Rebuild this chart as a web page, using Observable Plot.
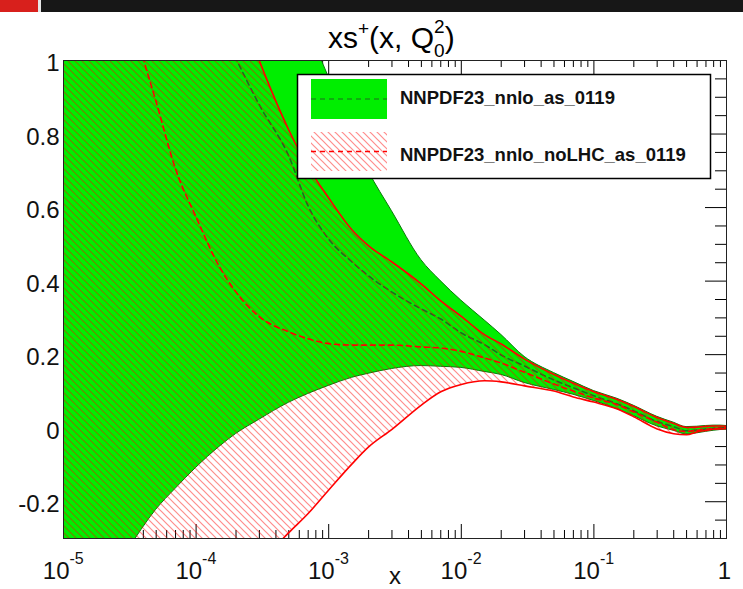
<!DOCTYPE html>
<html><head><meta charset="utf-8">
<script src="https://cdn.jsdelivr.net/npm/d3@7"></script>
<script src="https://cdn.jsdelivr.net/npm/@observablehq/plot@0.6"></script>
<style>
html,body{margin:0;padding:0;background:#fff;}
#wrap{position:relative;width:743px;height:589px;overflow:hidden;font-family:'Liberation Sans',Arial,Helvetica,sans-serif;}
#chart{position:absolute;left:0;top:0;}
#strip{position:absolute;left:0;top:0;width:743px;height:12px;background:#171717;}
#strip .red{position:absolute;left:0;top:0;width:38px;height:12px;background:#d8201c;}
#strip .gap{position:absolute;left:38px;top:0;width:3px;height:12px;background:#e6e6e6;}
#overlay{position:absolute;left:0;top:0;}
</style></head><body>
<div id="wrap">
<div id="chart"></div>
<div id="strip"><div class="red"></div><div class="gap"></div></div>
<svg id="overlay" width="743" height="589" font-family="'Liberation Sans',Arial,Helvetica,sans-serif">
<defs>
<pattern id="hatchL" patternUnits="userSpaceOnUse" width="7" height="7">
<path d="M-1,-1 L8,8 M-1,6 L1,8 M6,-1 L8,1" stroke="#ff0000" stroke-opacity="0.45" stroke-width="1.2"/>
</pattern>
</defs>
<text x="328" y="48" font-size="30" fill="#000">xs<tspan font-size="19" dy="-13">+</tspan><tspan dy="13">(x, Q</tspan><tspan font-size="19" dy="9">0</tspan><tspan font-size="19" dx="-10.6" dy="-24">2</tspan><tspan dy="15">)</tspan></text>
<g id="legend">
<rect x="297.5" y="74.5" width="413" height="104" fill="#fff" stroke="#000" stroke-width="1.5"/>
<rect x="311" y="79" width="76" height="40" fill="#00ee00"/>
<line x1="311" x2="387" y1="99" y2="99" stroke="#1f6b1f" stroke-dasharray="5,4" stroke-width="1.2"/>
<rect x="311" y="132" width="76" height="39" fill="url(#hatchL)"/>
<line x1="311" x2="387" y1="151.5" y2="151.5" stroke="#ff0000" stroke-dasharray="5,4" stroke-width="1.5"/>
<text x="400" y="104" font-size="18.5" font-weight="bold" fill="#111">NNPDF23_nnlo_as_0119</text>
<text x="400" y="161" font-size="18.5" font-weight="bold" fill="#111">NNPDF23_nnlo_noLHC_as_0119</text>
</g>
</svg>
</div>
<script>
// ---- data ----
const xs   = [1e-5,2e-5,3e-5,5e-5,7e-5,1e-4,1.5e-4,2e-4,3e-4,5e-4,7e-4,1e-3,1.5e-3,2e-3,3e-3,5e-3,7e-3,0.01,0.015,0.02,0.03,0.05,0.07,0.1,0.15,0.2,0.3,0.4,0.5,0.6,0.7,0.8,0.9,1];
// NNPDF23_nnlo_as_0119 : band and central value
const gHi  = [2.2,2.0,1.9,1.75,1.65,1.55,1.45,1.38,1.28,1.17,1.08,0.955,0.79,0.698,0.590,0.457,0.400,0.347,0.293,0.254,0.194,0.150,0.126,0.101,0.080,0.061,0.031,0.015,0.003,0.004,0.006,0.007,0.007,0.006];
const gC   = [null,null,null,null,null,null,1.10,1.005,0.879,0.740,0.604,0.514,0.452,0.414,0.370,0.324,0.297,0.259,0.227,0.199,0.169,0.131,0.110,0.088,0.066,0.047,0.018,0.004,-0.007,-0.005,-0.002,0,0.001,0.001];
const gLo  = [-0.6,-0.42,-0.335,-0.222,-0.165,-0.108,-0.051,-0.016,0.023,0.069,0.093,0.115,0.137,0.148,0.161,0.169,0.167,0.164,0.153,0.145,0.123,0.104,0.091,0.074,0.052,0.033,0.005,-0.007,-0.017,-0.014,-0.010,-0.007,-0.005,-0.004];
// NNPDF23_nnlo_noLHC_as_0119 : band and central value
const rHi  = [2.5,2.3,2.2,2.0,1.85,1.6,1.35,1.17,0.999,0.811,0.710,0.626,0.539,0.496,0.452,0.392,0.346,0.304,0.254,0.229,0.188,0.146,0.122,0.099,0.078,0.059,0.029,0.013,0.002,0.003,0.005,0.006,0.006,0.005];
const rC   = [null,null,1.15,0.887,0.705,0.574,0.439,0.370,0.303,0.262,0.243,0.230,0.226,0.226,0.226,0.221,0.218,0.209,0.191,0.177,0.152,0.120,0.101,0.082,0.064,0.044,0.016,-0.004,-0.009,-0.006,-0.003,-0.001,0,0.001];
const rLo  = [-1.2,-1.1,-1.0,-0.9,-0.8,-0.7,-0.56,-0.45,-0.37,-0.284,-0.232,-0.168,-0.097,-0.051,-0.003,0.063,0.099,0.119,0.129,0.126,0.115,0.101,0.085,0.071,0.052,0.031,-0.002,-0.015,-0.018,-0.010,-0.006,-0.003,-0.002,-0.001];

// ---- ticks / labels ----
const xDecades   = [1e-5,1e-4,1e-3,1e-2,1e-1];
const xExponents = ["-5","-4","-3","-2","-1"];
const xOne       = [1];
const xMajor     = [1e-5,1e-4,1e-3,1e-2,1e-1,1];
const xMinor     = [2,3,4,5,6,7,8,9].flatMap(k => [1e-5,1e-4,1e-3,1e-2,1e-1].map(d => k*d));
const yMajor     = [-0.2,0,0.2,0.4,0.6,0.8,1];
const yLabels    = ["-0.2","0","0.2","0.4","0.6","0.8","1"];
const yMinor     = [-0.3,-0.25,-0.15,-0.1,-0.05,0.05,0.1,0.15,0.25,0.3,0.35,0.45,0.5,0.55,0.65,0.7,0.75,0.85,0.9,0.95];

const rows = xs.map((x,i) => ({x, gHi: gHi[i], gC: gC[i], gLo: gLo[i], rHi: rHi[i], rC: rC[i], rLo: rLo[i]}));

const W = 743, H = 589, mL = 63, mR = 17, mT = 60, mB = 51;
const fW = W - mL - mR, fH = H - mT - mB;
const curve = "monotone-x";

const svg = Plot.plot({
  width: W, height: H,
  marginLeft: mL, marginRight: mR, marginTop: mT, marginBottom: mB,
  x: {type: "log", domain: [1e-5, 1], axis: null},
  y: {domain: [-0.3, 1], axis: null},
  style: {fontFamily: "'Liberation Sans', Arial, Helvetica, sans-serif", color: "#000", background: "transparent"},
  marks: [
    // ticks (drawn first, covered by the opaque band)
    Plot.tickX(xMajor, {x: d => d, insetTop: fH - 14, stroke: "#000"}),
    Plot.tickX(xMinor, {x: d => d, insetTop: fH - 8, stroke: "#000"}),
    Plot.tickX(xMajor, {x: d => d, insetBottom: fH - 14, stroke: "#000"}),
    Plot.tickX(xMinor, {x: d => d, insetBottom: fH - 7, stroke: "#000"}),
    Plot.tickY(yMajor, {y: d => d, insetLeft: fW - 21, stroke: "#000"}),
    Plot.tickY(yMinor, {y: d => d, insetLeft: fW - 11, stroke: "#000"}),
    Plot.tickY(yMajor, {y: d => d, insetRight: fW - 21, stroke: "#000"}),
    Plot.tickY(yMinor, {y: d => d, insetRight: fW - 11, stroke: "#000"}),
    // green band
    Plot.areaY(rows, {x: "x", y1: "gLo", y2: "gHi", fill: "#00ee00", stroke: "#0a7a0a", strokeWidth: 1, curve, clip: true}),
    Plot.lineY(rows, {x: "x", y: "gC", stroke: "#1f6b1f", strokeWidth: 1.6, strokeDasharray: "5,4", curve, clip: true}),
    // red hatched band
    Plot.areaY(rows, {x: "x", y1: "rLo", y2: "rHi", fill: "url(#hatchP)", curve, clip: true}),
    Plot.lineY(rows, {x: "x", y: "rHi", stroke: "#ff0000", strokeWidth: 1.6, curve, clip: true}),
    Plot.lineY(rows, {x: "x", y: "rLo", stroke: "#ff0000", strokeWidth: 1.6, curve, clip: true}),
    Plot.lineY(rows, {x: "x", y: "rC", stroke: "#ff0000", strokeWidth: 1.6, strokeDasharray: "5,4", curve, clip: true}),
    Plot.frame({stroke: "#222", strokeWidth: 1}),
    // tick labels
    Plot.text(yMajor, {y: d => d, text: (d,i) => yLabels[i], frameAnchor: "left", textAnchor: "end", dx: -4, dy: 3, fontSize: 24, fill: "#111"}),
    Plot.text(xDecades, {x: d => d, text: () => "10", frameAnchor: "bottom", lineAnchor: "bottom", textAnchor: "end", dx: 6, dy: 40, fontSize: 24, fill: "#111"}),
    Plot.text(xDecades, {x: d => d, text: (d,i) => xExponents[i], frameAnchor: "bottom", lineAnchor: "bottom", textAnchor: "start", dx: 6, dy: 25, fontSize: 16, fill: "#111"}),
    Plot.text(xOne, {x: d => d, text: () => "1", frameAnchor: "bottom", lineAnchor: "bottom", dx: -2, dy: 40, fontSize: 24, fill: "#111"}),
    Plot.text(["x"], {text: d => d, frameAnchor: "bottom", lineAnchor: "bottom", dy: 45, fontSize: 24, fill: "#111"})
  ]
});

d3.select(svg).insert("defs", ":first-child").html(
  '<pattern id="hatchP" patternUnits="userSpaceOnUse" width="7" height="7">' +
  '<path d="M-1,-1 L8,8 M-1,6 L1,8 M6,-1 L8,1" stroke="#ff0000" stroke-opacity="0.45" stroke-width="1.2"/></pattern>'
);
document.getElementById("chart").appendChild(svg);
</script>
</body></html>
